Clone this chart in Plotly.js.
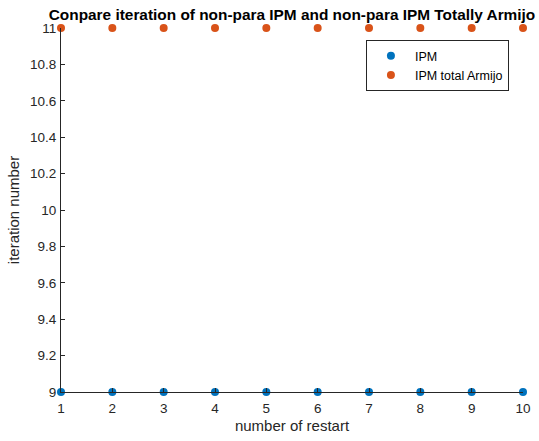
<!DOCTYPE html>
<html><head><meta charset="utf-8">
<script src="https://cdn.plot.ly/plotly-3.0.1.min.js"></script>
<style>html,body{margin:0;padding:0;background:#fff;}#chart{width:539px;height:441px;}</style>
</head><body><div id="chart"></div>
<script>
const restarts = [1,2,3,4,5,6,7,8,9,10];
const ipmIter = [9,9,9,9,9,9,9,9,9,9];
const armijoIter = [11,11,11,11,11,11,11,11,11,11];
const yTicks = [9,9.2,9.4,9.6,9.8,10,10.2,10.4,10.6,10.8,11];
const yTickText = ['9','9.2','9.4','9.6','9.8','10','10.2','10.4','10.6','10.8','11'];

const font = 'Liberation Sans, Arial, sans-serif';
const traces = [
  {x: restarts, y: ipmIter, mode: 'markers', type: 'scatter', name: 'IPM',
   marker: {color: '#0072BD', size: 8}, cliponaxis: false},
  {x: restarts, y: armijoIter, mode: 'markers', type: 'scatter', name: 'IPM total Armijo',
   marker: {color: '#D95319', size: 8}, cliponaxis: false}
];
const layout = {
  width: 539, height: 441,
  margin: {l: 61, r: 16, t: 28, b: 49, pad: 0},
  paper_bgcolor: '#fff', plot_bgcolor: '#fff',
  font: {family: font, size: 12, color: '#262626'},
  title: {text: '<b>Conpare iteration of non-para IPM and non-para IPM Totally Armijo</b>',
    font: {family: font, size: 15.4, color: '#000'}, xref: 'paper', x: 0.5, xanchor: 'center', y: 0.968, yanchor: 'middle'},
  xaxis: {range: [1, 10], tickvals: restarts, ticktext: restarts.map(String),
    showline: true, linecolor: '#262626', linewidth: 1, ticks: 'inside', ticklen: 4, tickcolor: '#262626',
    showgrid: false, zeroline: false, mirror: false, ticklabelstandoff: 4,
    tickfont: {size: 13.5, color: '#262626'},
    title: {text: 'number of restart', font: {size: 15, color: '#262626'}, standoff: 5}},
  yaxis: {range: [9, 11], tickvals: yTicks, ticktext: yTickText,
    showline: true, linecolor: '#262626', linewidth: 1, ticks: 'inside', ticklen: 4, tickcolor: '#262626',
    showgrid: false, zeroline: false, mirror: false, ticklabelstandoff: 1,
    tickfont: {size: 13.5, color: '#262626'},
    title: {text: 'iteration number', font: {size: 15, color: '#262626'}, standoff: 6}},
  showlegend: true,
  legend: {x: 0.66, y: 0.967, xanchor: 'left', yanchor: 'top', bgcolor: '#fff',
    bordercolor: '#262626', borderwidth: 1, font: {size: 12.5, color: '#000'},
    itemwidth: 38, tracegroupgap: 0}
};
Plotly.newPlot('chart', traces, layout, {displayModeBar: false, staticPlot: true});
</script></body></html>
